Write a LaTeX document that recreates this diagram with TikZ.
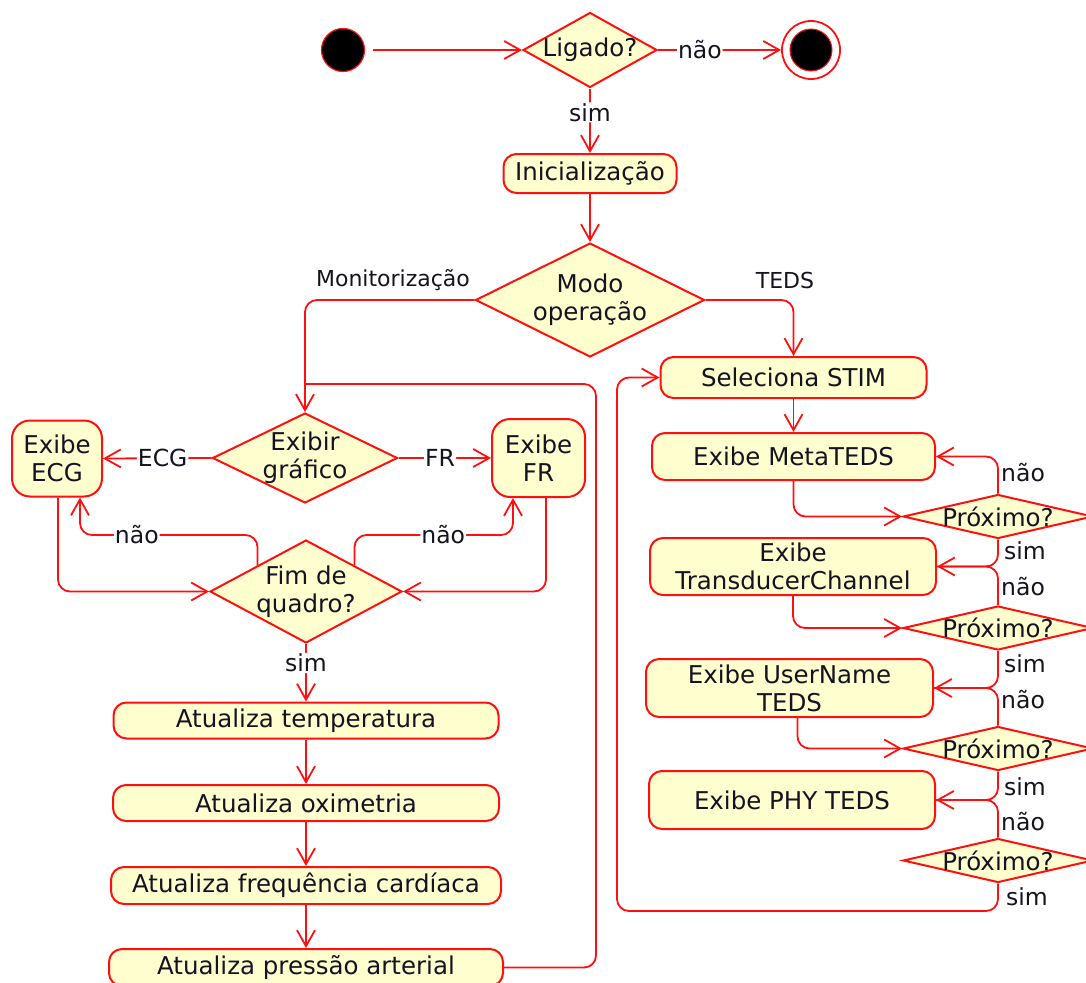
\documentclass[tikz,border=0pt]{standalone}
\usepackage{fontspec}
\setmainfont{DejaVu Sans}
\usetikzlibrary{shapes.geometric,arrows.meta,calc}
\definecolor{edge}{HTML}{FF1010}
\definecolor{actfill}{HTML}{FEFECE}
\definecolor{ink}{HTML}{141420}

\tikzset{
  act/.style={draw=edge, fill=actfill, line width=2pt, rounded corners=13pt,
    inner sep=0pt, align=center, text=ink, font=\fontsize{24.5}{28}\selectfont},
  dec/.style={draw=edge, fill=actfill, line width=2pt, diamond, inner sep=0pt},
  dtext/.style={font=\fontsize{24.5}{28}\selectfont, text=ink, align=center, inner sep=0pt},
  flow/.style={draw=edge, line width=1.8pt, rounded corners=12pt,
    -{Straight Barb[length=16pt,width=18pt]}},
  wire/.style={draw=edge, line width=1.8pt, rounded corners=12pt},
  br/.style={font=\fontsize{23.5}{26}\selectfont, text=ink, fill=white, inner sep=1pt},
  side/.style={font=\fontsize{23.5}{26}\selectfont, text=ink, anchor=west, inner sep=0pt},
  mode/.style={font=\fontsize{22}{26}\selectfont, text=ink, inner sep=0pt},
}

\begin{document}
\begin{tikzpicture}[x=1pt, y=-1pt]
\useasboundingbox (0,0) rectangle (1086,982);
\clip (0,0) rectangle (1086,982);

% start, first decision, end
\node[circle, fill=black, draw=edge, line width=1.2pt, minimum size=43pt, inner sep=0pt] (start) at (343,50) {};
\node[dec, minimum width=134pt, minimum height=75pt] (lig) at (590,50) {};
\node[dtext] (lig-t) at (lig) {Ligado?};
\node[circle, draw=edge, line width=1.8pt, minimum size=58pt, inner sep=0pt] (stop) at (811,50) {};
\node[circle, fill=black, draw=edge, line width=1pt, minimum size=42pt, inner sep=0pt] (stopin) at (stop) {};

\node[act, minimum width=173pt, minimum height=39pt] (init) at (590,173.5) {Inicialização};
\node[dec, minimum width=229pt, minimum height=114pt] (modo) at (590,300) {};
\node[dtext] (modo-t) at (modo) {Modo\\operação};
\node[mode] (m-mon) at (393,280) {Monitorização};
\node[mode] (m-teds) at (785,280) {TEDS};

% monitoring branch
\node[dec, minimum width=185pt, minimum height=90pt] (exg) at (305,458) {};
\node[dtext] (exg-t) at (exg) {Exibir\\gráfico};
\node[act, rounded corners=18pt, minimum width=90pt, minimum height=76pt] (ecg) at (57,458.5) {Exibe\\ECG};
\node[act, rounded corners=18pt, minimum width=93pt, minimum height=78pt] (fr) at (538.5,458) {Exibe\\FR};
\node[dec, minimum width=192pt, minimum height=103pt] (fq) at (306,591.5) {};
\node[dtext] (fq-t) at (fq) {Fim de\\quadro?};

\node[act, minimum width=385pt, minimum height=36pt] (t1) at (306,720.5) {Atualiza temperatura};
\node[act, minimum width=386pt, minimum height=36pt] (t2) at (306,803) {Atualiza oximetria};
\node[act, minimum width=390pt, minimum height=37pt] (t3) at (306,885.5) {Atualiza frequência cardíaca};
\node[act, minimum width=394pt, minimum height=37pt] (t4) at (306,967.5) {Atualiza pressão arterial};

% TEDS branch
\node[act, minimum width=266pt, minimum height=41pt] (stim) at (793.5,377.5) {Seleciona STIM};
\node[act, minimum width=283pt, minimum height=47pt] (meta) at (793.5,456.5) {Exibe MetaTEDS};
\node[act, minimum width=286pt, minimum height=57pt] (tc) at (793,566.5) {Exibe\\TransducerChannel};
\node[act, minimum width=287pt, minimum height=58pt] (un) at (789.5,688) {Exibe UserName\\TEDS};
\node[act, minimum width=286pt, minimum height=58pt] (phy) at (792,800) {Exibe PHY TEDS};

\node[dec, minimum width=190pt, minimum height=44pt] (d1) at (998,516.5) {};
\node[dtext] (d1-t) at (d1) {Próximo?};
\node[dec, minimum width=190pt, minimum height=44pt] (d2) at (998,628) {};
\node[dtext] (d2-t) at (d2) {Próximo?};
\node[dec, minimum width=190pt, minimum height=44pt] (d3) at (998,748.5) {};
\node[dtext] (d3-t) at (d3) {Próximo?};
\node[dec, minimum width=190pt, minimum height=44pt] (d4) at (998,860.5) {};
\node[dtext] (d4-t) at (d4) {Próximo?};

% helper points for the loops
\coordinate (backL) at (596,384);
\coordinate (backR) at (617,911);
\coordinate (nL) at (80,535);
\coordinate (nR) at (513,535);
\coordinate (fqNW) at ($(fq.west)!.5!(fq.north)$);
\coordinate (fqNE) at ($(fq.north)!.5!(fq.east)$);

% top connectors
\draw[flow, shorten <=8pt] (start) -- (lig);
\draw[flow] (lig.east) -- node[br, pos=.34] (l-nao0) {não} (stop.west);
\draw[flow] (lig.south) -- node[br, pos=.37] (l-sim0) {sim} (init.north);
\draw[flow] (init.south) -- (modo.north);
\draw[flow] (modo.west) -| (exg.north);
\draw[flow] (modo.east) -| (stim.north);

% monitoring loop
\draw[wire] (t4.east) -| (backL) -- (backL -| exg.north);
\draw[flow] (exg.west) -- node[br, pos=.45] (l-ecg) {ECG} (ecg.east);
\draw[flow] (exg.east) -- node[br, pos=.45] (l-fr) {FR} (fr.west);
\draw[flow] ([xshift=1pt]ecg.south) |- (fq.west);
\draw[flow] ([xshift=7.5pt]fr.south) |- (fq.east);
\draw[flow] (fqNW) -- (fqNW |- nL) -- node[br, pos=.68] (l-nao1) {não} (nL) -- (nL |- ecg.south);
\draw[flow] (fqNE) -- (fqNE |- nR) -- node[br, pos=.56] (l-nao2) {não} (nR) -- (nR |- fr.south);
\draw[flow] (fq.south) -- node[br, pos=.33] (l-sim1) {sim} (t1.north);
\draw[flow] (t1.south) -- (t2.north);
\draw[flow] (t2.south) -- (t3.north);
\draw[flow] (t3.south) -- (t4.north);

% TEDS chain
\draw[flow] (stim.south) -- (meta.north);
\draw[flow] (meta.south) |- (d1.west);
\draw[flow] (d1.north) |- (meta.east);
\draw[flow] (d1.south) |- (tc.east);
\draw[wire] (d2.north) |- (tc.east);
\draw[flow] (tc.south) |- (d2.west);
\draw[flow] (d2.south) |- (un.east);
\draw[wire] (d3.north) |- (un.east);
\draw[flow] ([xshift=8pt]un.south) |- (d3.west);
\draw[flow] (d3.south) |- (phy.east);
\draw[wire] (d4.north) |- (phy.east);
\draw[flow] (d4.south) |- (backR) |- (stim.west);

% side labels of the TEDS decisions
\node[side] (s-n1) at (1001,473) {não};
\node[side] (s-s1) at (1004,551) {sim};
\node[side] (s-n2) at (1001,587) {não};
\node[side] (s-s2) at (1004,664) {sim};
\node[side] (s-n3) at (1001,700) {não};
\node[side] (s-s3) at (1004,787) {sim};
\node[side] (s-n4) at (1001,822) {não};
\node[side] (s-s4) at (1006,897) {sim};
\end{tikzpicture}
\end{document}
